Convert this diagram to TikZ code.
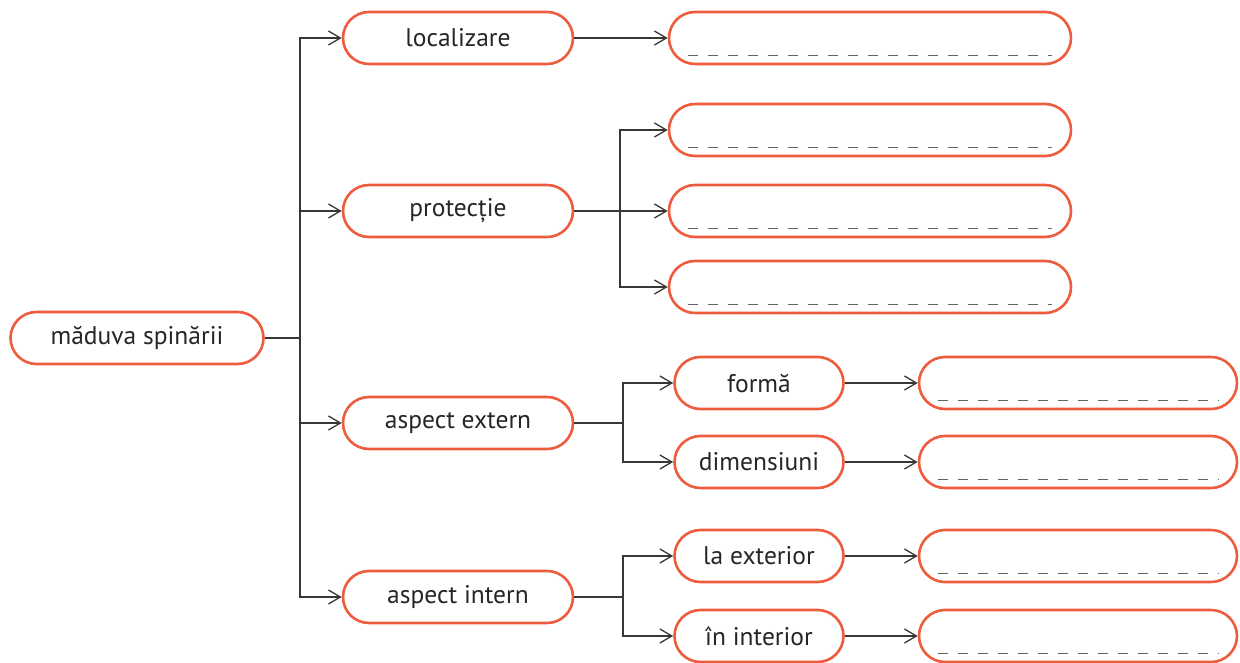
\documentclass[tikz,border=0pt]{standalone}
\usepackage{fontspec}
\setmainfont{PT Sans}
\usetikzlibrary{arrows.meta}
\definecolor{boxred}{RGB}{238,92,62}
\definecolor{lineg}{RGB}{55,55,55}
\definecolor{dashg}{RGB}{100,100,100}
\tikzset{
  x=1pt,y=-1pt,
  pill/.style={draw=boxred,line width=2.6pt,fill=white,rounded corners=26pt,inner sep=0pt,
    minimum height=52pt,font=\fontsize{25.5}{28}\selectfont,text=black!85},
  lvlone/.style={pill,minimum width=230pt},
  lvltwo/.style={pill,minimum width=169pt},
  ansbig/.style={pill,minimum width=402pt},
  anssmall/.style={pill,minimum width=318pt},
  conn/.style={draw=lineg,line width=1.3pt},
  arr/.style={conn,-{Straight Barb[length=12pt,width=14pt,line width=1.3pt]}},
  blankline/.style={draw=dashg,line width=1.4pt,dash pattern=on 10pt off 10pt}
}
\newcommand{\blank}[1]{\draw[blankline] ([xshift=20pt,yshift=10pt]#1.south west) -- ([xshift=-20pt,yshift=10pt]#1.south east);}
\begin{document}
\begin{tikzpicture}
\useasboundingbox (0,0) rectangle (1240,663);
% root
\node[pill,minimum width=253pt] (root) at (137,338) {măduva spinării};
% level 1
\node[lvlone] (loc) at (458,38) {localizare};
\node[lvlone] (prot) at (458,211) {protecție};
\node[lvlone] (ext) at (458,423) {aspect extern};
\node[lvlone] (int) at (458,597) {aspect intern};
% answer boxes, big
\node[ansbig] (b1) at (870,38) {};
\node[ansbig] (b2) at (870,130) {};
\node[ansbig] (b3) at (870,211) {};
\node[ansbig] (b4) at (870,287) {};
% level 2
\node[lvltwo] (forma) at (759,383) {formă};
\node[lvltwo] (dim) at (759,462) {dimensiuni};
\node[lvltwo] (lae) at (759,556) {la exterior};
\node[lvltwo] (ini) at (759,636) {în interior};
% answer boxes, small
\node[anssmall] (c1) at (1078,383) {};
\node[anssmall] (c2) at (1078,462) {};
\node[anssmall] (c3) at (1078,556) {};
\node[anssmall] (c4) at (1078,636) {};
\foreach \n in {b1,b2,b3,b4,c1,c2,c3,c4}{\blank{\n}}
% trunk
\coordinate (t) at (300,338);
\draw[conn] (root.east) -- (t);
\draw[arr] (t) |- (loc.west);
\draw[arr] (t) |- (prot.west);
\draw[arr] (t) |- (ext.west);
\draw[arr] (t) |- (int.west);
% localizare
\draw[arr] (loc.east) -- (b1.west);
% protectie
\coordinate (p) at (620,211);
\draw[conn] (prot.east) -- (p);
\draw[arr] (p) |- (b2.west);
\draw[arr] (p) -- (b3.west);
\draw[arr] (p) |- (b4.west);
% aspect extern
\coordinate (e) at (623,423);
\draw[conn] (ext.east) -- (e);
\draw[arr] (e) |- (forma.west);
\draw[arr] (e) |- (dim.west);
\draw[arr] (forma.east) -- (c1.west);
\draw[arr] (dim.east) -- (c2.west);
% aspect intern
\coordinate (i) at (623,597);
\draw[conn] (int.east) -- (i);
\draw[arr] (i) |- (lae.west);
\draw[arr] (i) |- (ini.west);
\draw[arr] (lae.east) -- (c3.west);
\draw[arr] (ini.east) -- (c4.west);
\end{tikzpicture}
\end{document}
